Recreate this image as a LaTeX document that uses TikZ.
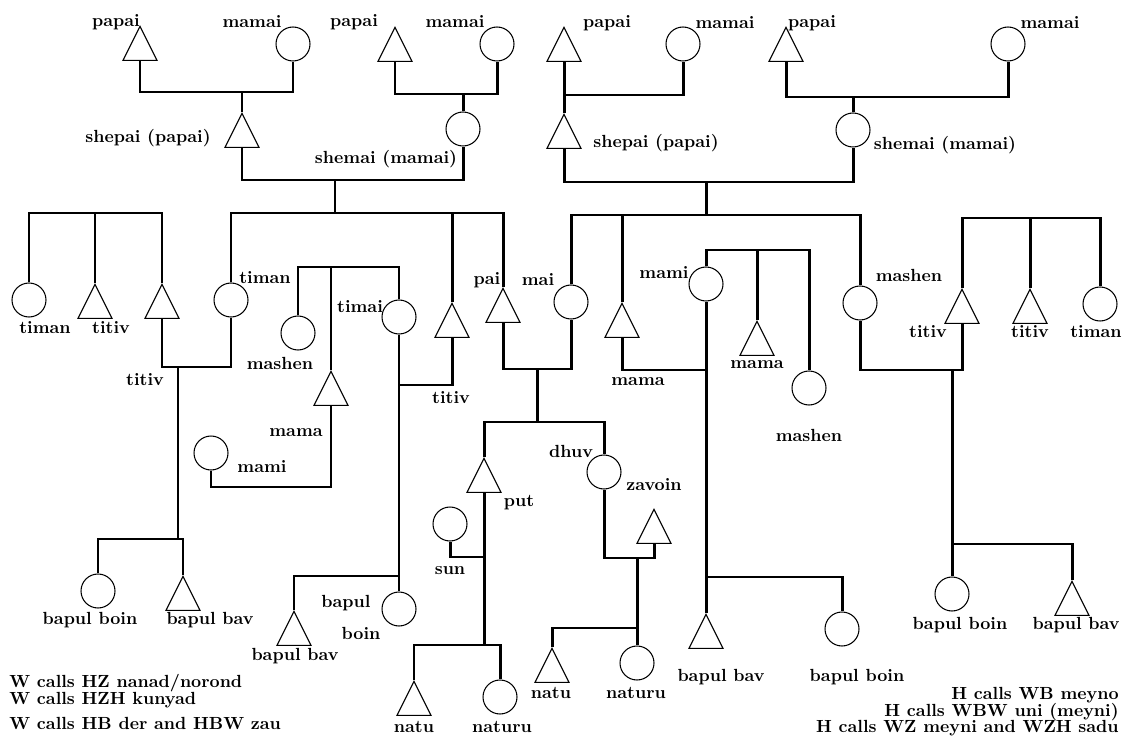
\documentclass[tikz,border=0pt]{standalone}
\usetikzlibrary{shapes.geometric}
\begin{document}
\begin{tikzpicture}[x=0.02cm, y=-0.02cm]
    % Stili
    \tikzstyle{female}=[circle, draw, minimum size=0.68cm, inner sep=0pt, line width=0.6pt]
    \tikzstyle{male}=[isosceles triangle, isosceles triangle stretches, shape border rotate=90, draw, minimum width=0.68cm, minimum height=0.68cm, inner sep=0pt, anchor=apex, line width=0.6pt]
    \tikzstyle{kin}=[line width=1.7pt]
    \tikzstyle{term}=[font=\bfseries, inner sep=1pt]
    \tikzstyle{note}=[font=\bfseries, inner sep=0pt]
    \useasboundingbox (0,0) rectangle (1125,736);

    % Nonni, lato del padre
    \node[male] (pa1) at (140,25) {};
    \node[female] (ma1) at (293,44) {};
    \node[male] (pa2) at (395,26) {};
    \node[female] (ma2) at (497,44) {};
    \node[male] (she1) at (242,112) {};
    \node[female] (shm1) at (463,129) {};
    \coordinate (g1) at (242,92);
    \coordinate (g2) at (463,94);
    \coordinate (g3) at (335,180);
    \draw[kin] (pa1.south) |- (g1) -| (ma1.south);
    \draw[kin] (g1) -- (she1.apex);
    \draw[kin] (pa2.south) |- (g2) -| (ma2.south);
    \draw[kin] (g2) -- (shm1.north);
    \draw[kin] (she1.south) |- (g3) -| (shm1.south);
    \node[term] (tpa1) at (116,22) {papai};
    \node[term] (tma1) at (252,22) {mamai};
    \node[term] (tpa2) at (354,22) {papai};
    \node[term] (tma2) at (455,22) {mamai};
    \node[term] (tshe1) at (148,138) {shepai (papai)};
    \node[term] (tshm1) at (386,159) {shemai (mamai)};

    % Nonni, lato della madre
    \node[male] (pa3) at (564,26) {};
    \node[female] (ma3) at (683,44) {};
    \node[male] (pa4) at (786,26) {};
    \node[female] (ma4) at (1008,44) {};
    \node[male] (she2) at (564,113) {};
    \node[female] (shm2) at (853,130) {};
    \coordinate (g4) at (564,95);
    \coordinate (g5) at (853,97);
    \coordinate (g6) at (706,182);
    \draw[kin] (pa3.south) -- (g4) -| (ma3.south);
    \draw[kin] (g4) -- (she2.apex);
    \draw[kin] (pa4.south) |- (g5) -| (ma4.south);
    \draw[kin] (g5) -- (shm2.north);
    \draw[kin] (she2.south) |- (g6) -| (shm2.south);
    \node[term] (tpa3) at (607,23) {papai};
    \node[term] (tma3) at (725,23) {mamai};
    \node[term] (tpa4) at (812,23) {papai};
    \node[term] (tma4) at (1050,23) {mamai};
    \node[term] (tshe2) at (656,143) {shepai (papai)};
    \node[term] (tshm2) at (945,145) {shemai (mamai)};

    % Generazione di ego
    \coordinate (f1) at (335,213);
    \coordinate (f2) at (706,215);
    \draw[kin] (g3) -- (f1);
    \draw[kin] (g6) -- (f2);
    \node[female] (timanA) at (231,300) {};
    \node[male] (titivB) at (452,302) {};
    \node[male] (pai) at (503,287) {};
    \node[female] (mai) at (571,302) {};
    \node[male] (mamaA) at (622,302) {};
    \node[female] (mashenA) at (860,303) {};
    \draw[kin] (timanA.north) |- (f1) -| (pai.apex);
    \draw[kin] (titivB.apex) -- (titivB.apex |- f1);
    \draw[kin] (mai.north) |- (f2) -| (mashenA.north);
    \draw[kin] (mamaA.apex) -- (mamaA.apex |- f2);

    % Fratelli a sinistra
    \node[female] (timan0) at (29,300) {};
    \node[male] (titiv0) at (95,283) {};
    \node[male] (titiv1) at (162,283) {};
    \coordinate (f3) at (95,213);
    \draw[kin] (timan0.north) |- (f3) -| (titiv1.apex);
    \draw[kin] (f3) -- (titiv0.apex);
    \coordinate (f4) at (178,367);
    \coordinate (f5) at (178,539);
    \draw[kin] (titiv1.south) |- (f4) -| (timanA.south);
    \draw[kin] (f4) -- (f5);
    \node[female] (boinA) at (98,591) {};
    \node[male] (bavA) at (183,575) {};
    \draw[kin] (boinA.north) |- (f5) -| (bavA.apex);
    \node[term] (ttiman0) at (45,328) {timan};
    \node[term] (ttitiv0) at (111,328) {titiv};
    \node[term] (ttitiv1) at (145,380) {titiv};
    \node[term] (ttimanA) at (265,278) {timan};
    \node[term] (tboinA) at (90,620) {bapul boin};
    \node[term] (tbavA) at (210,620) {bapul bav};

    % Gruppo interno: mashen, mama, timai
    \node[female] (mashenB) at (298,333) {};
    \node[male] (mamaB) at (331,370) {};
    \node[female] (timai) at (399,317) {};
    \coordinate (f6) at (331,267);
    \draw[kin] (mashenB.north) |- (f6) -| (timai.north);
    \draw[kin] (f6) -- (mamaB.apex);
    \node[female] (mamiA) at (211,453) {};
    \coordinate (f7) at (331,487);
    \draw[kin] (mamaB.south) -- (f7) -| (mamiA.south);
    \coordinate (f8) at (399,385);
    \coordinate (f9) at (399,576);
    \draw[kin] (timai.south) -- (f8) -| (titivB.south);
    \draw[kin] (f8) -- (f9);
    \node[male] (bavB) at (294,610) {};
    \node[female] (boinB) at (399,609) {};
    \draw[kin] (bavB.apex) |- (f9) -- (boinB.north);
    \node[term] (tmashenB) at (280,363) {mashen};
    \node[term] (ttimai) at (360,307) {timai};
    \node[term] (tmamaB) at (296,433) {mama};
    \node[term] (tmamiA) at (262,467) {mami};
    \node[term] (ttitivB) at (451,398) {titiv};
    \node[term] (tbavB) at (295,656) {bapul bav};
    \node[term] (tboinB1) at (346,603) {bapul};
    \node[term] (tboinB2) at (361,633) {boin};

    % Ego e figli
    \coordinate (f10) at (537,369);
    \coordinate (f11) at (537,422);
    \draw[kin] (pai.south) |- (f10) -| (mai.south);
    \draw[kin] (f10) -- (f11);
    \node[male] (put) at (484,457) {};
    \node[female] (dhuv) at (604,472) {};
    \draw[kin] (put.apex) |- (f11) -| (dhuv.north);
    \node[female] (sun) at (450,524) {};
    \coordinate (f12) at (484,557);
    \coordinate (f13) at (484,645);
    \draw[kin] (put.south) -- (f13);
    \draw[kin] (sun.south) |- (f12);
    \node[male] (natuA) at (414,680) {};
    \node[female] (naturuA) at (500,697) {};
    \draw[kin] (natuA.apex) |- (f13) -| (naturuA.north);
    \node[male] (zavoin) at (654,508) {};
    \coordinate (f14) at (637,558);
    \coordinate (f15) at (637,628);
    \draw[kin] (dhuv.south) |- (f14) -| (zavoin.south);
    \draw[kin] (f14) -- (f15);
    \node[male] (natuB) at (552,647) {};
    \node[female] (naturuB) at (637,663) {};
    \draw[kin] (natuB.apex) |- (f15) -- (naturuB.north);
    \node[term] (tpai) at (487,280) {pai};
    \node[term] (tmai) at (538,280) {mai};
    \node[term] (tput) at (519,503) {put};
    \node[term] (tdhuv) at (571,451) {dhuv};
    \node[term] (tsun) at (450,571) {sun};
    \node[term] (tzavoin) at (654,485) {zavoin};
    \node[term] (tnatuA) at (414,727) {natu};
    \node[term] (tnaturuA) at (502,727) {naturu};
    \node[term] (tnatuB) at (551,693) {natu};
    \node[term] (tnaturuB) at (636,693) {naturu};

    % Lato della madre: mama e mami
    \node[female] (mamiB) at (706,284) {};
    \coordinate (f16) at (706,370);
    \coordinate (f17) at (706,577);
    \draw[kin] (mamaA.south) |- (f16);
    \draw[kin] (mamiB.south) -- (f17);
    \node[male] (bavC) at (706,613) {};
    \node[female] (boinC) at (842,629) {};
    \draw[kin] (f17) -- (bavC.apex);
    \draw[kin] (f17) -| (boinC.north);
    \node[male] (mamaC) at (757,320) {};
    \node[female] (mashenC) at (809,388) {};
    \coordinate (f18) at (757,250);
    \draw[kin] (mamiB.north) |- (f18) -| (mashenC.north);
    \draw[kin] (f18) -- (mamaC.apex);
    \node[term] (tmamaA) at (638,382) {mama};
    \node[term] (tmamiB) at (664,273) {mami};
    \node[term] (tmamaC) at (757,365) {mama};
    \node[term] (tmashenC) at (809,435) {mashen};
    \node[term] (tbavC) at (721,677) {bapul bav};
    \node[term] (tboinC) at (857,677) {bapul boin};

    % Fratelli a destra
    \node[male] (titivC) at (962,288) {};
    \node[male] (titivD) at (1030,288) {};
    \node[female] (timanB) at (1100,304) {};
    \coordinate (f19) at (952,370);
    \coordinate (f20) at (952,544);
    \coordinate (f21) at (1030,218);
    \draw[kin] (mashenA.south) |- (f19) -| (titivC.south);
    \draw[kin] (f19) -- (f20);
    \draw[kin] (titivC.apex) |- (f21) -| (timanB.north);
    \draw[kin] (f21) -- (titivD.apex);
    \node[female] (boinD) at (952,594) {};
    \node[male] (bavD) at (1072,580) {};
    \draw[kin] (f20) -- (boinD.north);
    \draw[kin] (f20) -| (bavD.apex);
    \node[term] (tmashenA) at (909,275) {mashen};
    \node[term] (ttitivC) at (928,332) {titiv};
    \node[term] (ttitivD) at (1030,332) {titiv};
    \node[term] (ttimanB) at (1096,332) {timan};
    \node[term] (tboinD) at (960,625) {bapul boin};
    \node[term] (tbavD) at (1076,625) {bapul bav};

    % Note
    \node[note, anchor=west] (nw1) at (9,683) {W calls HZ nanad/norond};
    \node[note, anchor=west] (nw2) at (9,700) {W calls HZH kunyad};
    \node[note, anchor=west] (nw3) at (9,723) {W calls HB der and HBW zau};
    \node[note, anchor=east] (nh1) at (1119,695) {H calls WB meyno};
    \node[note, anchor=east] (nh2) at (1119,712) {H calls WBW uni (meyni)};
    \node[note, anchor=east] (nh3) at (1119,728) {H calls WZ meyni and WZH sadu};
\end{tikzpicture}
\end{document}
